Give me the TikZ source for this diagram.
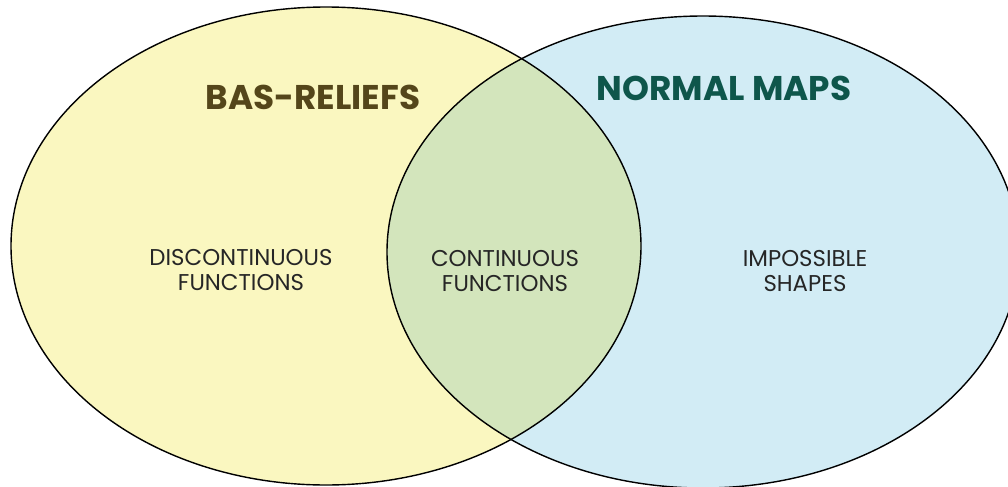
\documentclass[tikz,border=0pt]{standalone}
\usepackage{fontspec}
\setmainfont{Poppins}
\definecolor{reliefyellow}{HTML}{FAF7C0}
\definecolor{mapblue}{HTML}{D2ECF5}
\definecolor{bothgreen}{HTML}{D3E5BC}
\definecolor{reliefbrown}{HTML}{54461A}
\definecolor{mapteal}{HTML}{0E564B}
\tikzset{
	setline/.style = {draw = black, line width = 0.8pt},
	settitle/.style = {font = \fontsize{19.5}{22}\selectfont\bfseries},
	setlabel/.style = {font = \fontsize{13}{14.3}\selectfont, align = center, text = black!85}
}
\begin{document}
\begin{tikzpicture}[x = 0.02cm, y = -0.02cm]
			\useasboundingbox (0,0) rectangle (1008,487);
			\clip (0,0) rectangle (1008,487);
			
			\fill[reliefyellow] (326,246) ellipse [x radius = 315, y radius = 239];
			\fill[mapblue] (703,252) ellipse [x radius = 316, y radius = 236];
			\begin{scope}
				\clip (326,246) ellipse [x radius = 315, y radius = 239];
				\fill[bothgreen] (703,252) ellipse [x radius = 316, y radius = 236];
			\end{scope}
			\draw[setline] (326,246) ellipse [x radius = 315, y radius = 239];
			\draw[setline] (703,252) ellipse [x radius = 316, y radius = 236];
			
			\node[settitle, text = reliefbrown] (reliefs) at (313,97) {BAS-RELIEFS};
			\node[settitle, text = mapteal] (maps) at (724,88) {NORMAL MAPS};
			
			\node[setlabel] (discont) at (241,270) {DISCONTINUOUS\\FUNCTIONS};
			\node[setlabel] (cont) at (505,271) {CONTINUOUS\\FUNCTIONS};
			\node[setlabel] (impossible) at (805,271) {IMPOSSIBLE\\SHAPES};
		\end{tikzpicture}
\end{document}
